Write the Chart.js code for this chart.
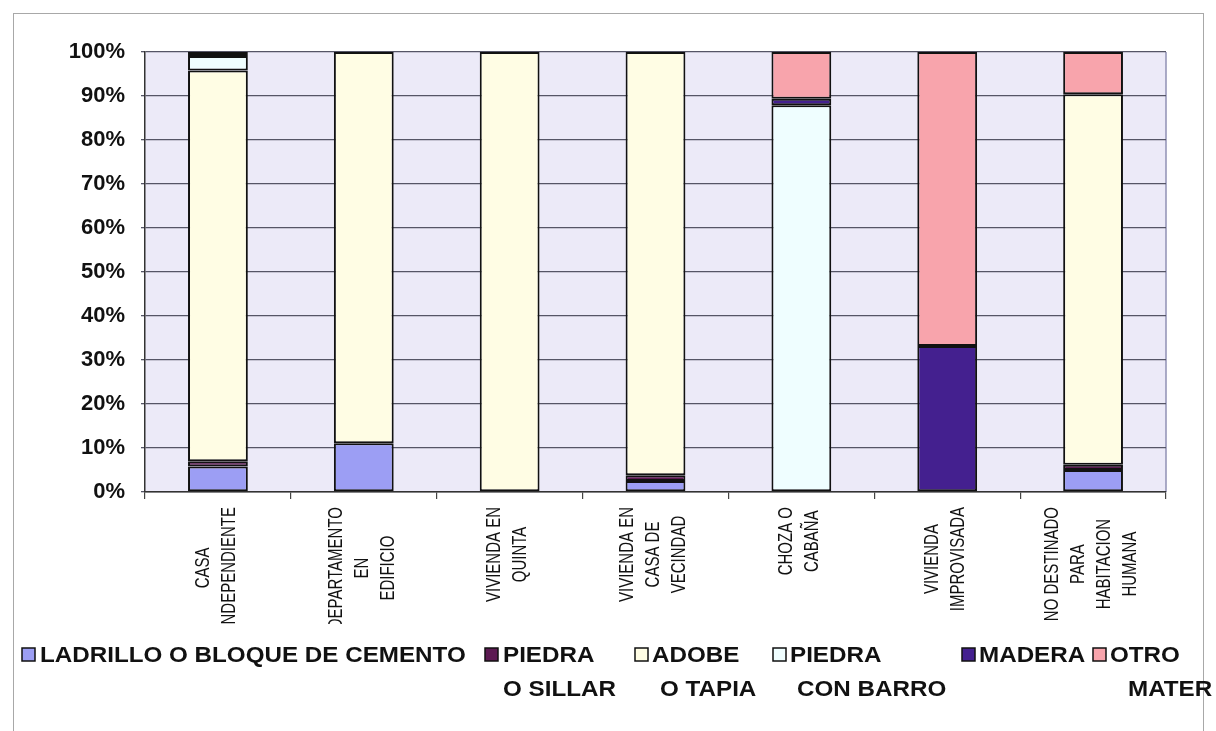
<!DOCTYPE html>
<html>
<head>
<meta charset="utf-8">
<script src="https://cdn.jsdelivr.net/npm/chart.js@4"></script>
<style>
  html, body { margin: 0; padding: 0; background: #fff; }
  #wrap { width: 1216px; height: 731px; }
</style>
</head>
<body>
<div id="wrap"><canvas id="chart" width="1216" height="731"></canvas></div>
<script>
/* ---------- DATA ---------- */
const categories = [
    ['CASA', 'INDEPENDIENTE'],
    ['DEPARTAMENTO', 'EN', 'EDIFICIO'],
    ['VIVIENDA EN', 'QUINTA'],
    ['VIVIENDA EN', 'CASA DE', 'VECINDAD'],
    ['CHOZA O', 'CABAÑA'],
    ['VIVIENDA', 'IMPROVISADA'],
    ['NO DESTINADO', 'PARA', 'HABITACION', 'HUMANA']
];
const seriesNames = ['LADRILLO O BLOQUE DE CEMENTO', 'PIEDRA O SILLAR', 'ADOBE O TAPIA', 'PIEDRA CON BARRO', 'MADERA', 'OTRO MATERIAL'];
const legendLines = [
    ['LADRILLO O BLOQUE DE CEMENTO'],
    ['PIEDRA', 'O SILLAR'],
    ['ADOBE', 'O TAPIA'],
    ['PIEDRA', 'CON BARRO'],
    ['MADERA'],
    ['OTRO', 'MATER']
];
const ladrillo    = [5.8, 11.1, 0,   2.5,  0,    0,    5.0];
const piedraSill  = [1.2, 0,    0,   1.3,  0,    0,    1.2];
const adobe       = [88.8, 88.9, 100, 96.2, 0,    0,    84.2];
const piedraBarro = [3.3, 0,    0,   0,    87.9, 0,    0];
const madera      = [0.9, 0,    0,   0,    1.5,  33.2, 0];
const otro        = [0,   0,    0,   0,    10.6, 66.8, 9.6];
const yTicks = [0, 10, 20, 30, 40, 50, 60, 70, 80, 90, 100];

/* ---------- STYLE ---------- */
const FONT = '"Liberation Sans", Arial, sans-serif';
const colors = ['#9C9EF4', '#5C1A52', '#FFFDE4', '#EFFEFF', '#44208F', '#F8A4AC'];
const legendPos = [
    { box: 22,   text: 40,   text2: 40 },
    { box: 485,  text: 503,  text2: 503 },
    { box: 635,  text: 652,  text2: 660 },
    { box: 773,  text: 790,  text2: 797 },
    { box: 962,  text: 979,  text2: 979 },
    { box: 1093, text: 1110, text2: 1128 }
];

const seriesValues = [ladrillo, piedraSill, adobe, piedraBarro, madera, otro];

const decor = {
    id: 'decor',
    beforeDraw(chart) {
        const ctx = chart.ctx, a = chart.chartArea;
        ctx.save();
        ctx.fillStyle = '#fff';
        ctx.fillRect(0, 0, chart.width, chart.height);
        ctx.strokeStyle = '#A8A8A8';
        ctx.lineWidth = 1;
        ctx.strokeRect(13.5, 13.5, 1190, 740);
        ctx.fillStyle = '#ECEAF8';
        ctx.fillRect(a.left, a.top, a.right - a.left, a.bottom - a.top);
        ctx.strokeStyle = '#9090B4';
        ctx.lineWidth = 1.5;
        ctx.beginPath();
        ctx.moveTo(a.right, a.top);
        ctx.lineTo(a.right, a.bottom);
        ctx.stroke();
        ctx.restore();
    },
    afterDraw(chart) {
        const ctx = chart.ctx, a = chart.chartArea;
        const xs = chart.scales.x;

        // category labels: rotated, lines centred in the block, clipped like the original
        ctx.save();
        ctx.beginPath();
        ctx.rect(0, a.bottom + 2, chart.width, 624 - a.bottom - 2);
        ctx.clip();
        ctx.fillStyle = '#111';
        ctx.font = '15px ' + FONT;
        ctx.textAlign = 'center';
        ctx.textBaseline = 'middle';
        categories.forEach((lines, i) => {
            const cx = xs.getPixelForValue(i) - 2;
            const blockLen = Math.max(...lines.map(l => ctx.measureText(l).width));
            lines.forEach((line, j) => {
                const x = cx + (j - (lines.length - 1) / 2) * 26;
                ctx.save();
                ctx.translate(x, a.bottom + 15);
                ctx.rotate(-Math.PI / 2);
                ctx.scale(1, 1.4);
                ctx.fillText(line, -blockLen / 2, 0);
                ctx.restore();
            });
        });
        ctx.restore();

        // legend
        ctx.save();
        ctx.font = 'bold 22px ' + FONT;
        ctx.textBaseline = 'middle';
        ctx.textAlign = 'left';
        legendLines.forEach((lines, i) => {
            const p = legendPos[i];
            ctx.fillStyle = colors[i];
            ctx.fillRect(p.box, 648, 13, 13);
            ctx.strokeStyle = '#111';
            ctx.lineWidth = 1.5;
            ctx.strokeRect(p.box, 648, 13, 13);
            ctx.fillStyle = '#111';
            lines.forEach((line, j) => {
                ctx.save();
                ctx.translate(j === 0 ? p.text : p.text2, 656 + j * 34);
                ctx.scale(1.1, 1);
                ctx.fillText(line, 0, 0);
                ctx.restore();
            });
        });
        ctx.restore();
    }
};

new Chart(document.getElementById('chart'), {
    type: 'bar',
    data: {
        labels: categories,
        datasets: seriesNames.map((name, i) => ({
            label: name,
            data: seriesValues[i],
            backgroundColor: colors[i],
            borderColor: '#111',
            borderWidth: 2,
            borderSkipped: false,
            barPercentage: 0.41,
            categoryPercentage: 1
        }))
    },
    options: {
        responsive: false,
        animation: false,
        layout: { padding: { top: 52, right: 50, left: 0, bottom: 0 } },
        plugins: { legend: { display: false }, tooltip: { enabled: false } },
        scales: {
            x: {
                stacked: true,
                offset: true,
                ticks: { display: false },
                grid: { offset: true, drawOnChartArea: false, tickLength: 7, color: '#444', lineWidth: 1.2 },
                border: { color: '#333', width: 1.5 },
                afterFit: s => { s.height = 239; }
            },
            y: {
                stacked: true,
                min: 0,
                max: 100,
                afterBuildTicks: s => { s.ticks = yTicks.map(v => ({ value: v })); },
                ticks: {
                    padding: 16,
                    color: '#111',
                    font: { family: FONT, size: 22, weight: 'bold' },
                    callback: v => v + '%'
                },
                grid: { color: '#555566', lineWidth: 1.3, tickLength: 4 },
                border: { color: '#333', width: 1.5 },
                afterFit: s => { s.width = 145; }
            }
        }
    },
    plugins: [decor]
});
</script>
</body>
</html>
